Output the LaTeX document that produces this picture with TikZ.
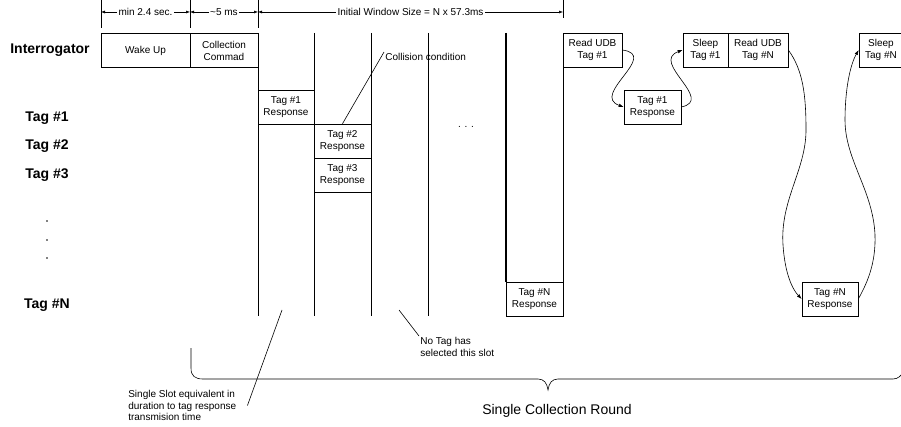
\documentclass[tikz,border=0pt]{standalone}
\usepackage{fontspec}
\setmainfont{Liberation Sans}
\usetikzlibrary{arrows.meta,positioning}
\tikzset{
  box/.style={draw, line width=0.6pt, minimum height=34pt, inner sep=0pt,
              align=center, font=\fontsize{10}{12}\selectfont},
  rowlabel/.style={font=\fontsize{14}{16}\selectfont\bfseries},
  note/.style={align=left, inner sep=1pt, font=\fontsize{10}{11.5}\selectfont},
  flow/.style={-{Latex[length=5pt,width=3.5pt]}, line width=0.6pt},
  dim/.style={{Latex[length=4pt,width=3pt]}-{Latex[length=4pt,width=3pt]}, line width=0.5pt},
  dimlabel/.style={midway, fill=white, inner sep=1.5pt, font=\fontsize{10}{12}\selectfont}
}

\begin{document}
\begin{tikzpicture}[x=1pt,y=-1pt,line width=0.6pt]
\useasboundingbox (0,0) rectangle (901,427);

% time spans along the top
\foreach \x/\h in {101/28,190/28,258/28,563/18}
  \draw[line width=0.5pt] (\x,0) -- (\x,\h);
\draw[dim] (101,12) -- (190,12) node[dimlabel]{min 2.4 sec.};
\draw[dim] (190,12) -- (258,12) node[dimlabel]{\textasciitilde5 ms};
\draw[dim] (258,12) -- (563,12) node[dimlabel]{Initial Window Size = N x 57.3ms};

% row labels
\node[rowlabel] (inter) at (50,50) {Interrogator};
\node[rowlabel] (tagone) at (47,118) {Tag \#1};
\node[rowlabel] (tagtwo) at (47,146) {Tag \#2};
\node[rowlabel] (tagthree) at (47,175) {Tag \#3};
\node[rowlabel] (tagn) at (47,305) {Tag \#N};
\foreach \y in {221,240,258}
  \fill (47,\y) circle (0.9pt);

% interrogator commands
\node[box, minimum width=89pt] (wake) at (145.5,50.5) {Wake Up};
\node[box, minimum width=68pt] (collect) at (224,50.5) {Collection\\Commad};

% slots
\foreach \x in {258,314,371,428}
  \draw (\x,33) -- (\x,316);
\draw[line width=1.4pt] (506,33) -- (506,282);
\draw (563,67) -- (563,316);

\node[box, minimum width=56pt] (respone) at (286,107) {Tag \#1\\Response};
\node[box, minimum width=57pt] (resptwo) at (342.5,141) {Tag \#2\\Response};
\node[box, minimum width=57pt] (respthree) at (342.5,175) {Tag \#3\\Response};
\node[box, minimum width=57pt] (respn) at (534.5,299) {Tag \#N\\Response};
\node[font=\fontsize{10}{12}\selectfont] (hdots) at (466,127) {. . .};

\node[note, anchor=west] (collide) at (384,57) {Collision condition};
\draw (resptwo.north) -- (collide.north west);

% reading and sleeping the tags
\node[box, minimum width=59pt] (readone) at (592.5,50) {Read UDB\\Tag \#1};
\node[box, minimum width=57pt] (respb) at (652.5,107) {Tag \#1\\Response};
\node[box, minimum width=45pt] (sleepone) at (705.5,50) {Sleep\\Tag \#1};
\node[box, minimum width=60pt] (readn) at (758,50) {Read UDB\\Tag \#N};
\node[box, minimum width=56pt] (respnb) at (830,299) {Tag \#N\\Response};
\node[box, minimum width=44pt] (sleepn) at (881,50) {Sleep\\Tag \#N};

\draw[flow] (readone.east) .. controls (660,55) and (590,95) .. (respb.west);
\draw[flow] (respb.east) .. controls (715,100) and (650,62) .. (sleepone.west);
\draw[flow] (readn.east) .. controls (803,70) and (806,95) .. (806,130)
  .. controls (806,170) and (780,200) .. (783,245)
  .. controls (785,275) and (793,290) .. (respnb.west);
\draw[flow] (respnb.east) .. controls (866,285) and (876,265) .. (875,235)
  .. controls (873,190) and (845,160) .. (845,120)
  .. controls (845,90) and (850,65) .. (sleepn.west);

% notes under the slots
\node[note, anchor=north west] (slot) at (127,389)
  {Single Slot equivalent in\\duration to tag response\\transmision time};
\draw ([xshift=10pt]slot.east) -- (282,310);
\node[note, anchor=north west] (notag) at (419,336) {No Tag has\\selected this slot};
\draw (notag.north west) -- (399,310);

% collection round brace
\draw (191,348) -- (191,368) .. controls (191,376) and (195,379) .. (203,379)
  -- (538,379) .. controls (544,379) and (547,383) .. (548,390)
  .. controls (549,383) and (552,379) .. (558,379)
  -- (893,379) .. controls (898,379) and (901,376) .. (905,370);
\node[font=\fontsize{14}{16}\selectfont] (round) at (557,411) {Single Collection Round};
\end{tikzpicture}
\end{document}
